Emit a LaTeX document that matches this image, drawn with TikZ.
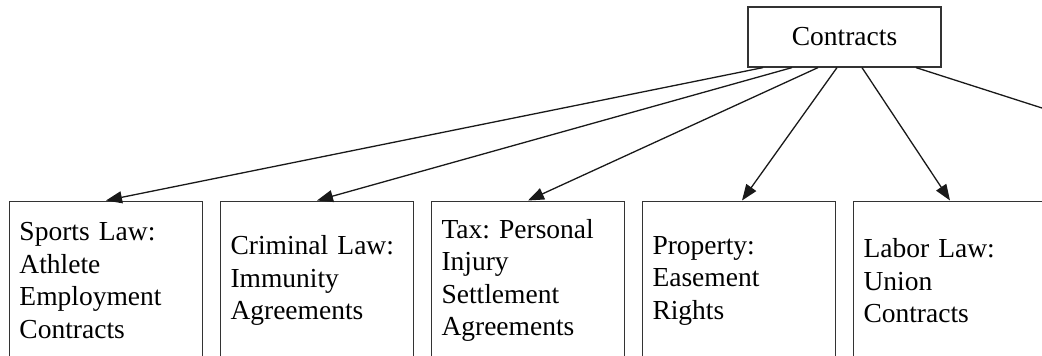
\documentclass[tikz,border=0pt]{standalone}
\usepackage{fontspec}
\setmainfont{Liberation Serif}
\usetikzlibrary{arrows.meta}
\frenchspacing
\tikzset{
  boxline/.style={draw=black!80, line width=1.2pt},
  topbox/.style={boxline, rectangle, minimum width=193pt, minimum height=60pt, inner sep=0pt,
    font=\fontsize{27.5}{32.5}\selectfont\frenchspacing},
  leaf/.style={boxline, rectangle, anchor=north, text width=173pt, inner xsep=10pt, inner ysep=0pt,
    minimum height=159pt, align=left, font=\fontsize{27.5}{32.5}\selectfont\frenchspacing},
  conn/.style={draw=black!90, line width=1.3pt},
  arr/.style={conn, -{Triangle[length=16pt,width=12pt]}}
}
\begin{document}
\begin{tikzpicture}[x=1pt,y=-1pt]
\clip (0,0) rectangle (1042,356);
\node[topbox] (top) at (844.5,37) {Contracts};
\node[leaf] (b1) at (106,200.5) {Sports Law:\\Athlete\\Employment\\Contracts};
\node[leaf] (b2) at (317,200.5) {Criminal Law:\\Immunity\\Agreements};
\node[leaf] (b3) at (528,200.5) {Tax: Personal\\Injury\\Settlement\\Agreements};
\node[leaf] (b4) at (739,200.5) {Property:\\Easement\\Rights};
\node[leaf] (b5) at (950,200.5) {Labor Law:\\Union\\Contracts};
\coordinate (off) at (1042,108);
\draw[arr] ([xshift=-81.5pt]top.south) -- (b1.north);
\draw[arr] ([xshift=-52.5pt]top.south) -- (b2.north);
\draw[arr] ([xshift=-26.5pt]top.south) -- (b3.north);
\draw[arr] ([xshift=-7.5pt]top.south) -- ([xshift=3pt]b4.north);
\draw[arr] ([xshift=17.5pt]top.south) -- (b5.north);
\draw[conn] ([xshift=71.5pt]top.south) -- (off);
\end{tikzpicture}
\end{document}
